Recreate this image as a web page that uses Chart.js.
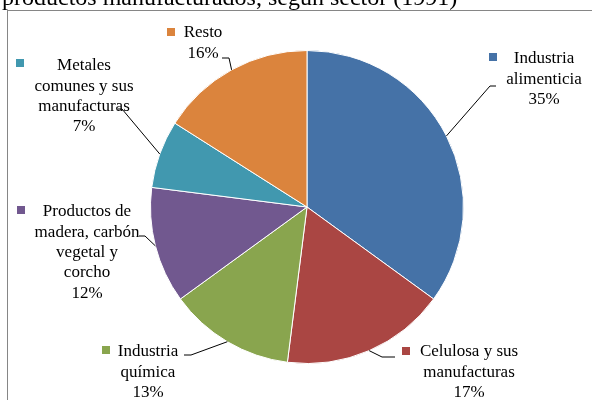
<!DOCTYPE html>
<html>
<head>
<meta charset="utf-8">
<script src="https://cdn.jsdelivr.net/npm/chart.js@4"></script>
<style>
  html, body { margin: 0; padding: 0; background: #fff; }
  #wrap { width: 592px; height: 400px; overflow: hidden; }
</style>
</head>
<body>
<div id="wrap"><canvas id="sectores" width="592" height="400"></canvas></div>
<script>
const titulo = "productos manufacturados, según sector (1991)";
const sectores = [
  ["Industria", "alimenticia"],
  ["Celulosa y sus", "manufacturas"],
  ["Industria", "química"],
  ["Productos de", "madera, carbón", "vegetal y", "corcho"],
  ["Metales", "comunes y sus", "manufacturas"],
  ["Resto"],
];
const porcentajes = [35, 17, 13, 12, 7, 16];
const colores = ["#4572A7", "#AA4643", "#89A54E", "#71588F", "#4198AF", "#DB843D"];

// where each label block sits, and the elbow/end of its leader line
const etiquetas = [
  { x: 544, y: 59, sq: [489, 53], elbow: [490, 86], end: [496, 86] },
  { x: 469, y: 352, sq: [402, 347], elbow: [382, 357], end: [395, 357] },
  { x: 148, y: 352, sq: [102, 346], elbow: [191, 355], end: [184, 355] },
  { x: 87, y: 212, sq: [17, 206], elbow: [145, 236], end: [139, 236] },
  { x: 84, y: 66, sq: [16, 59], elbow: [122, 109], end: [118, 109] },
  { x: 203, y: 33, sq: [167, 28], elbow: [229, 58], end: [222, 58] },
];

const serif = "'Liberation Serif', 'Times New Roman', serif";

const marco = {
  id: "marco",
  beforeDraw(chart) {
    const ctx = chart.ctx;
    ctx.save();
    ctx.strokeStyle = "#868686";
    ctx.lineWidth = 1;
    ctx.strokeRect(7.5, 10.5, 700, 500);
    ctx.fillStyle = "#000";
    ctx.font = "24px " + serif;
    ctx.textBaseline = "alphabetic";
    ctx.fillText(titulo, 2, 5);
    ctx.restore();
  },
};

const rotulos = {
  id: "rotulos",
  afterDatasetsDraw(chart) {
    const ctx = chart.ctx;
    const arcs = chart.getDatasetMeta(0).data;
    ctx.save();
    arcs.forEach((arc, i) => {
      const e = etiquetas[i];
      const mid = (arc.startAngle + arc.endAngle) / 2;
      const px = arc.x + Math.cos(mid) * arc.outerRadius;
      const py = arc.y + Math.sin(mid) * arc.outerRadius;
      ctx.strokeStyle = "#000";
      ctx.lineWidth = 1;
      ctx.beginPath();
      ctx.moveTo(px, py);
      ctx.lineTo(e.elbow[0], e.elbow[1]);
      ctx.lineTo(e.end[0], e.end[1]);
      ctx.stroke();

      ctx.fillStyle = colores[i];
      ctx.fillRect(e.sq[0], e.sq[1], 8, 8);

      ctx.fillStyle = "#000";
      ctx.font = "17px " + serif;
      ctx.textAlign = "center";
      ctx.textBaseline = "middle";
      const lineas = sectores[i].concat([porcentajes[i] + "%"]);
      lineas.forEach((t, k) => ctx.fillText(t, e.x, e.y + k * 20.3));
    });
    ctx.restore();
  },
};

new Chart(document.getElementById("sectores").getContext("2d"), {
  type: "pie",
  data: {
    labels: sectores.map((s) => s.join(" ")),
    datasets: [
      {
        data: porcentajes,
        backgroundColor: colores,
        borderColor: "#ffffff",
        borderWidth: 1,
      },
    ],
  },
  options: {
    responsive: false,
    animation: false,
    layout: { padding: { left: 150, right: 128, top: 50, bottom: 36 } },
    plugins: {
      legend: { display: false },
      title: { display: false },
      tooltip: { enabled: false },
    },
  },
  plugins: [marco, rotulos],
});
</script>
</body>
</html>
